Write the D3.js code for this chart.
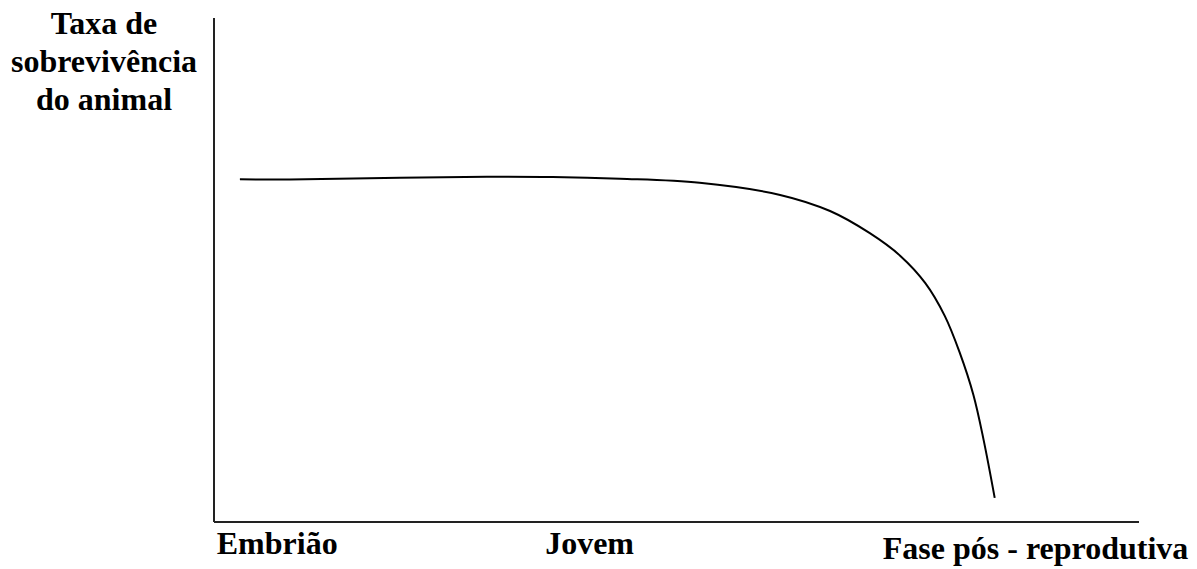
<!DOCTYPE html>
<html>
<head>
<meta charset="utf-8">
<script src="https://cdn.jsdelivr.net/npm/d3@7"></script>
<style>
  html, body { margin: 0; padding: 0; background: #fff; }
  svg { display: block; }
</style>
</head>
<body>
<div class="graph"><svg></svg></div>
<script>
// survival curve (x = life stage 0-100, y = survival 0-100)
const stageX = [2.8, 8.2, 20.1, 29.5, 36.6, 43.9, 52.5, 61.2, 66.6, 70.9, 74.2, 76.9, 79.0, 80.6, 82.1, 83.2, 84.4]
const survival = [68.0, 67.96, 68.3, 68.5, 68.45, 68.1, 67.3, 64.9, 61.7, 57.3, 52.8, 47.4, 40.9, 33.7, 25.2, 16.3, 4.8]

// x axis labels and where they sit along the stage axis
const stageLabels = ['Embrião', 'Jovem', 'Fase pós - reprodutiva']
const stageLabelPos = [0.3, 35.8, 72.3]
const yTitle = ['Taxa de', 'sobrevivência', 'do animal']

const FONT = 'Liberation Serif'

const width = 1197
const height = 569
const margin = { top: 18, right: 58, bottom: 47, left: 214 }

const svg = d3.select('.graph').select('svg')
  .attr('width', width)
  .attr('height', height)

const x = d3.scaleLinear()
  .domain([0, 100])
  .range([margin.left, width - margin.right])

const y = d3.scaleLinear()
  .domain([0, 100])
  .range([height - margin.bottom, margin.top])

// axes: plain lines, no ticks
svg.append('line')
  .attr('x1', x(0)).attr('x2', x(0))
  .attr('y1', y(100)).attr('y2', y(0))
  .attr('stroke', '#222')
  .attr('stroke-width', 2)

svg.append('line')
  .attr('x1', x(0)).attr('x2', x(100))
  .attr('y1', y(0)).attr('y2', y(0))
  .attr('stroke', '#222')
  .attr('stroke-width', 2)

const line = d3.line()
  .x((d, i) => x(stageX[i]))
  .y((d) => y(d))
  .curve(d3.curveCatmullRom.alpha(0.5))

svg.append('path')
  .datum(survival)
  .attr('d', line)
  .attr('fill', 'none')
  .attr('stroke', '#000')
  .attr('stroke-width', 2)

// y title, three lines
svg.append('text')
  .attr('text-anchor', 'middle')
  .attr('font-family', FONT)
  .attr('font-weight', 'bold')
  .attr('font-size', 32)
  .selectAll('tspan')
  .data(yTitle)
  .join('tspan')
  .attr('x', 104)
  .attr('y', (d, i) => 34 + i * 38)
  .text((d) => d)

// stage labels under the x axis
svg.selectAll('.stage')
  .data(stageLabels)
  .join('text')
  .attr('class', 'stage')
  .attr('font-family', FONT)
  .attr('font-weight', 'bold')
  .attr('font-size', 32)
  .attr('x', (d, i) => x(stageLabelPos[i]))
  .attr('y', (d, i) => i === 2 ? 559 : 554)
  .text((d) => d)
</script>
</body>
</html>
